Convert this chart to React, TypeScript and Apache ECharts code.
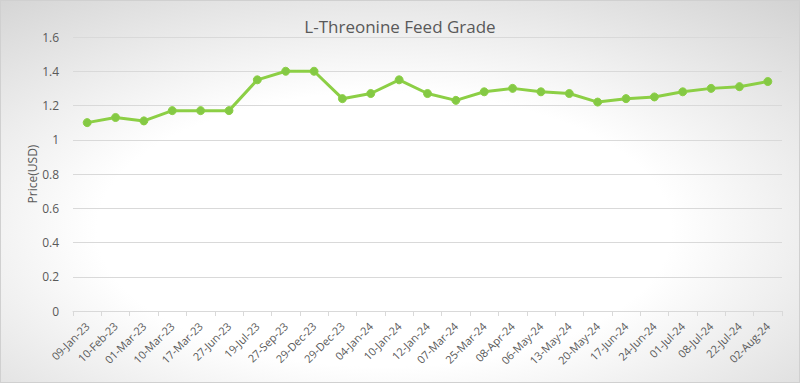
import React, { useEffect, useRef } from "react";
import * as echarts from "echarts";

const categories = [
  "09-Jan-23", "10-Feb-23", "01-Mar-23", "10-Mar-23", "17-Mar-23", "27-Jun-23",
  "19-Jul-23", "27-Sep-23", "29-Dec-23", "29-Dec-23", "04-Jan-24", "10-Jan-24",
  "12-Jan-24", "07-Mar-24", "25-Mar-24", "08-Apr-24", "06-May-24", "13-May-24",
  "20-May-24", "17-Jun-24", "24-Jun-24", "01-Jul-24", "08-Jul-24", "22-Jul-24",
  "02-Aug-24",
];
const prices = [
  1.10, 1.13, 1.11, 1.17, 1.17, 1.17, 1.35, 1.40, 1.40, 1.24, 1.27, 1.35,
  1.27, 1.23, 1.28, 1.30, 1.28, 1.27, 1.22, 1.24, 1.25, 1.28, 1.30, 1.31, 1.34,
];
const titleText = "L-Threonine Feed Grade";
const yAxisName = "Price(USD)";

export default function App() {
  const ref = useRef<HTMLDivElement>(null);
  useEffect(() => {
    if (!ref.current) return;
    const chart = echarts.init(ref.current, null, { renderer: "svg" });
    const font = "'Open Sans', 'Noto Sans', sans-serif";
    chart.setOption({
      animation: false,
      backgroundColor: new echarts.graphic.RadialGradient(0.48, 0.6, 1.2, [
        { offset: 0, color: "#ffffff" },
        { offset: 0.3, color: "#ffffff" },
        { offset: 1, color: "#a9a9a9" },
      ]),
      textStyle: { fontFamily: font },
      title: {
        text: titleText,
        left: "center",
        top: 12,
        textStyle: { fontFamily: font, fontSize: 17, fontWeight: "normal", color: "#595959" },
      },
      grid: { left: 72, right: 17, top: 36, bottom: 71 },
      xAxis: {
        type: "category",
        data: categories,
        boundaryGap: true,
        axisLine: { lineStyle: { color: "#d9d9d9", width: 1 } },
        axisTick: { show: true, length: 5, lineStyle: { color: "#d9d9d9" } },
        axisLabel: {
          rotate: 45,
          interval: 0,
          color: "#595959",
          fontSize: 11,
          fontFamily: font,
          margin: 13,
        },
      },
      yAxis: {
        type: "value",
        min: 0,
        max: 1.6,
        interval: 0.2,
        name: yAxisName,
        nameLocation: "middle",
        nameGap: 35,
        nameRotate: 90,
        nameMoveOverlap: false,
        nameTextStyle: { color: "#595959", fontSize: 12, fontFamily: font },
        axisLine: { show: false },
        axisTick: { show: false },
        axisLabel: {
          color: "#595959",
          fontSize: 12,
          fontFamily: font,
          margin: 14,
          formatter: (v: number) => String(Math.round(v * 10) / 10),
        },
        splitLine: { lineStyle: { color: "#d9d9d9", width: 1 } },
      },
      series: [
        {
          type: "line",
          data: prices,
          symbol: "circle",
          symbolSize: 8,
          lineStyle: { color: "#8ccf45", width: 3 },
          itemStyle: { color: "#84c944", borderColor: "#8ccf45", borderWidth: 1 },
        },
      ],
    });
    return () => chart.dispose();
  }, []);
  return (
    <div
      ref={ref}
      style={{
        position: "absolute",
        left: 0,
        top: 0,
        width: 800,
        height: 383,
        boxSizing: "border-box",
        border: "1px solid #d0d0d0",
      }}
    />
  );
}
